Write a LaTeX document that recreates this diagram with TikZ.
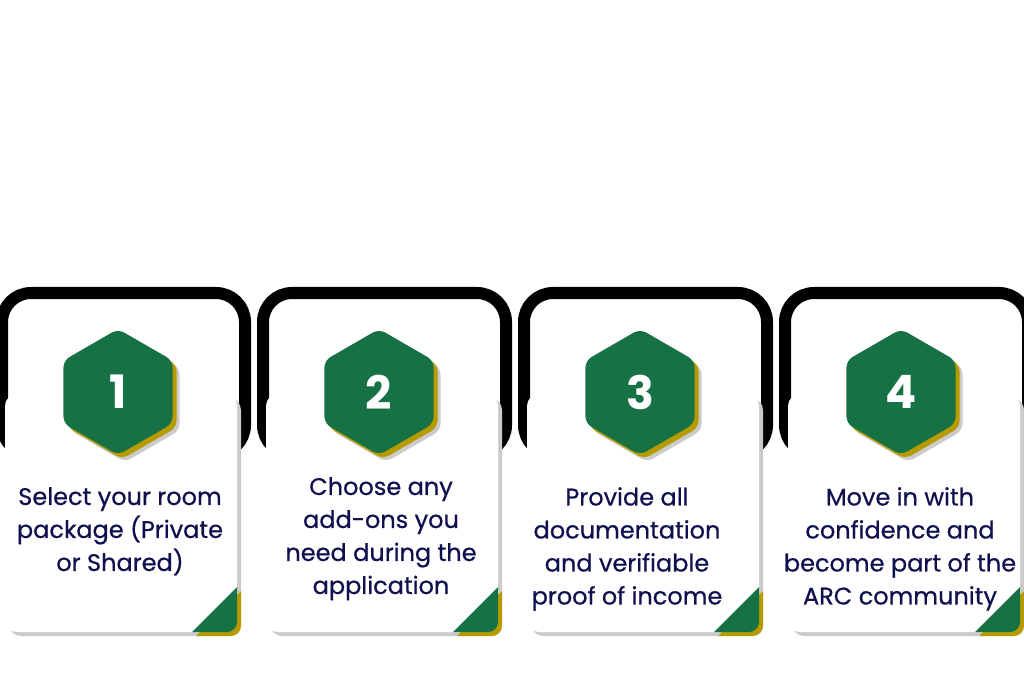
\documentclass[tikz,border=0pt]{standalone}
\usepackage{fontspec}
\setmainfont{Poppins}
\newfontfamily\medfont{Poppins}[FakeBold=0.6]
\usepackage{xcolor}
\usetikzlibrary{positioning}

\definecolor{stepgreen}{HTML}{167145}
\definecolor{stepgold}{HTML}{B59B00}
\definecolor{stepnavy}{HTML}{10104F}
\definecolor{shadowgray}{HTML}{CBCBCB}

\tikzset{
  stepframe/.style={line width=12pt, rounded corners=29pt},
  hexcorner/.style={rounded corners=7pt},
  stepnum/.style={inner sep=0pt, text=white, font=\fontsize{46}{46}\selectfont\bfseries},
  steptext/.style={anchor=north, inner sep=0pt, align=center, text=stepnavy,
    font=\medfont\fontsize{24}{33}\selectfont}
}

\begin{document}
\begin{tikzpicture}[x=1pt, y=-1pt]
  \useasboundingbox (0,0) rectangle (1024,692);
  \fill[white] (0,0) rectangle (1024,692);

  \foreach \i/\num/\tx/\ty/\txt in {
    0/1/120/487/{Select your room\\package (Private\\or Shared)},
    1/2/120/477/{Choose any\\add-ons you\\need during the\\application},
    2/3/105/487/{Provide all\\documentation\\and verifiable\\proof of income},
    3/4/117/487/{Move in with\\confidence and\\become part of the\\ARC community}}{
    \begin{scope}[xshift=\i*261pt]
      % black frame behind the card
      \draw[stepframe] (2,293) rectangle (245,454);

      % card and its shadow
      \fill[shadowgray, rounded corners=12pt] (9,398) rectangle (241,636);
      \fill[white, rounded corners=12pt] (5,394) rectangle (237,632);

      % corner flag
      \fill[stepgold] (196,636) -- (241,591) [rounded corners=10pt] -- (241,636)
        [sharp corners] -- cycle;
      \fill[stepgreen] (192,632) -- (237,587) [rounded corners=10pt] -- (237,632)
        [sharp corners] -- cycle;

      % hexagon badge
      \fill[shadowgray, hexcorner, shift={(125,399)}]
        (90:63) \foreach \a in {150,210,270,330,30} { -- (\a:63) } -- cycle;
      \fill[stepgold, hexcorner, shift={(122,396)}]
        (90:63) \foreach \a in {150,210,270,330,30} { -- (\a:63) } -- cycle;
      \fill[stepgreen, hexcorner, shift={(118,392)}]
        (90:63) \foreach \a in {150,210,270,330,30} { -- (\a:63) } -- cycle;

      \node[stepnum] (num\i) at (118,392) {\num};
      \node[steptext] (txt\i) at (\tx,\ty) {\txt};
    \end{scope}
  }
\end{tikzpicture}
\end{document}
